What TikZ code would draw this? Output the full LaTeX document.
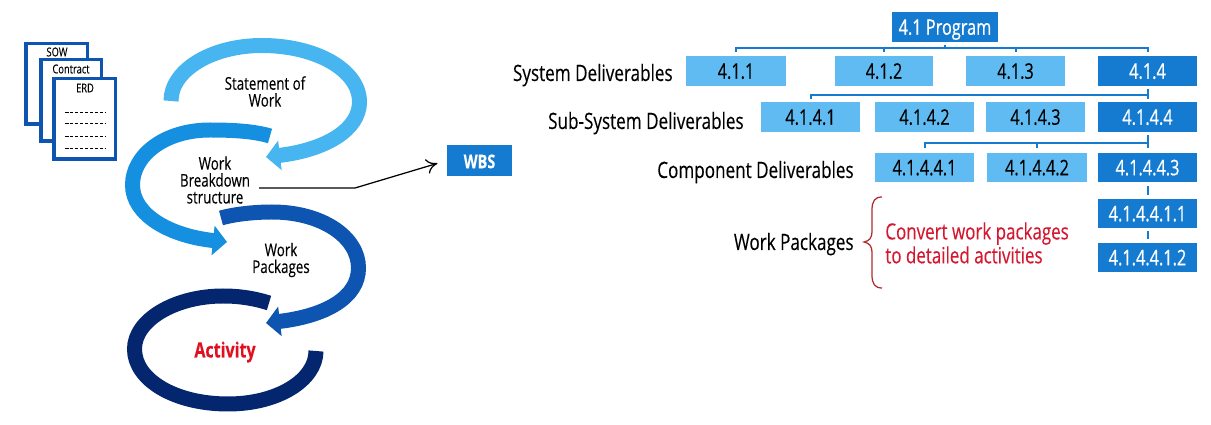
\documentclass[tikz,border=0pt]{standalone}
\usepackage{fontspec}
\setmainfont[FakeStretch=0.76,FakeBold=0.2]{Open Sans}
\newfontfamily\semifont[FakeStretch=0.76,FakeBold=0.6]{Open Sans}
\usetikzlibrary{arrows.meta}
\definecolor{skyfill}{HTML}{5FBBF2}
\definecolor{progfill}{HTML}{147BD1}
\definecolor{loopa}{HTML}{47B5F0}
\definecolor{loopb}{HTML}{1590E0}
\definecolor{loopc}{HTML}{0D55B0}
\definecolor{loopd}{HTML}{03266F}
\definecolor{docblue}{HTML}{0D55B0}
\definecolor{actred}{HTML}{E01020}
\definecolor{notered}{HTML}{D41830}
\definecolor{bracered}{HTML}{B22A2A}
\tikzset{
  wbsbox/.style={minimum width=1.98cm, minimum height=0.6cm, inner sep=0pt, outer sep=0pt, text height=0.31cm, text depth=0pt, font=\fontsize{12.2}{14}\selectfont},
  lightbox/.style={wbsbox, fill=skyfill, text=black},
  darkbox/.style={wbsbox, fill=progfill, text=white, font=\fontsize{12.2}{14}\selectfont\semifont},
  rowlabel/.style={anchor=east, inner sep=0pt, text height=0.32cm, text depth=0pt, font=\fontsize{12.8}{15}\selectfont},
  doclabel/.style={font=\fontsize{7}{9}\selectfont},
  looptext/.style={align=center, font=\fontsize{10}{9.6}\selectfont},
  buslink/.style={draw=progfill, line width=0.04cm},
  doc/.style={draw=docblue, fill=white, line width=0.07cm},
  looparrow/.style={line width=0.3cm, -{Triangle[length=0.28cm,width=0.58cm]}},
  loopplain/.style={line width=0.3cm}
}
\begin{document}
\begin{tikzpicture}[x=0.02cm, y=-0.02cm]
\useasboundingbox (0,0) rectangle (1211,425);

% documents
\draw[doc] (25.75,43.75) rectangle (87.25,124.25);
\node[doclabel] (sow) at (57,52) {SOW};
\draw[doc] (40.75,59.75) rectangle (101.25,141.25);
\node[doclabel] (contract) at (71,69) {Contract};
\draw[doc] (53.75,78.75) rectangle (115.25,159.25);
\node[doclabel] (erd) at (85,88) {ERD};
\foreach \y in {113,124,137,149}
  \draw[dash pattern=on 0.07cm off 0.03cm, line width=0.02cm] (65,\y) -- (106,\y);

% loops
\draw[looparrow, draw=loopa, color=loopa] (171,101) .. controls (171,70) and (212,45.5) .. (262,45.5)
  .. controls (316,45.5) and (359.5,70) .. (359.5,102) .. controls (359.5,130) and (325,150) .. (266,157);
\draw[looparrow, draw=loopb, color=loopb] (270,136) .. controls (255,131.5) and (235,130) .. (210,130)
  .. controls (165,130) and (132.5,155) .. (132.5,185) .. controls (132.5,215) and (170,236) .. (227,242);
\draw[looparrow, draw=loopc, color=loopc] (221,218) .. controls (235,214) and (255,212) .. (272,212)
  .. controls (322,212) and (358.5,237) .. (358.5,268) .. controls (358.5,298) and (325,316) .. (266,323);
\draw[loopplain, draw=loopd] (269,303) .. controls (255,298.5) and (240,296) .. (223,296)
  .. controls (175,296) and (134.5,320) .. (134.5,349) .. controls (134.5,380) and (175,404) .. (228,404)
  .. controls (278,404) and (316,380) .. (316,351);

\node[looptext] (sowtext) at (265,91.5) {Statement of\\Work};
\node[looptext] (wbstext) at (215,180) {Work\\Breakdown\\structure};
\node[looptext] (packtext) at (281,260) {Work\\Packages};
\node[text=actred, text height=0.3cm, text depth=0pt, font=\fontsize{12}{14}\selectfont\bfseries] (activity) at (225,350) {Activity};

% wbs callout
\node[darkbox, minimum width=1.3cm, minimum height=0.62cm, font=\fontsize{10.8}{13}\selectfont\bfseries] (wbs) at (479.5,160.5) {WBS};
\coordinate (calloutstart) at (259,188);
\coordinate (calloutbend) at (355,188);
\draw[line width=0.025cm, shorten >=0.2cm, -{To[length=0.22cm,width=0.3cm]}] (calloutstart) -- (calloutbend) -- (wbs.west);

% tree
\node[darkbox, minimum width=2.12cm] (prog) at (945,27) {4.1 Program};

\node[lightbox, minimum width=2cm] (d1) at (736,71) {4.1.1};
\node[lightbox] (d2) at (884,71) {4.1.2};
\node[lightbox] (d3) at (1015.5,71) {4.1.3};
\node[darkbox] (d4) at (1147.5,71) {4.1.4};

\node[lightbox] (s1) at (810.5,117) {4.1.4.1};
\node[lightbox] (s2) at (924.5,117) {4.1.4.2};
\node[lightbox] (s3) at (1035.5,117) {4.1.4.3};
\node[darkbox] (s4) at (1147.5,117) {4.1.4.4};

\node[lightbox, minimum height=0.58cm] (c1) at (924.5,167.5) {4.1.4.4.1};
\node[lightbox, minimum height=0.58cm, minimum width=2cm] (c2) at (1037,167.5) {4.1.4.4.2};
\node[darkbox, minimum height=0.58cm] (c3) at (1147.5,167.5) {4.1.4.4.3};

\node[darkbox, minimum height=0.58cm] (p1) at (1147.5,213.5) {4.1.4.4.1.1};
\node[darkbox, minimum height=0.58cm] (p2) at (1147.5,257.5) {4.1.4.4.1.2};

\coordinate (busa) at (0,48.5);
\coordinate (busb) at (0,95);
\coordinate (busc) at (0,143);
\foreach \child in {d1,d2,d3,d4}
  \draw[buslink, shorten <=0.06cm, shorten >=0.08cm] (prog.south) -- (prog.south |- busa) -| (\child.north);
\foreach \child in {s1,s4}
  \draw[buslink, shorten <=0.06cm, shorten >=0.06cm] (d4.south) -- (d4.south |- busb) -| (\child.north);
\foreach \child in {c1,c2,c3}
  \draw[buslink, shorten <=0.06cm, shorten >=0.1cm] (s4.south) -- (s4.south |- busc) -| (\child.north);
\draw[buslink, shorten <=0.08cm, shorten >=0.08cm] (c3.south) -- (p1.north);
\draw[buslink, shorten <=0.06cm, shorten >=0.08cm] (p1.south) -- (p2.north);

% row labels
\node[rowlabel] (lsys) at (673,73) {System Deliverables};
\node[rowlabel] (lsub) at (744,121) {Sub-System Deliverables};
\node[rowlabel] (lcomp) at (854,170) {Component Deliverables};
\node[rowlabel] (lpack) at (854,242) {Work Packages};

% brace and note
\draw[bracered, line width=0.025cm] (882,197) .. controls (875,197) and (872,201) .. (872,210) -- (872,232)
  .. controls (872,238) and (869,241) .. (864,242) .. controls (869,243) and (872,246) .. (872,252) -- (872,275)
  .. controls (872,284) and (875,288) .. (882,288);
\node[anchor=west, inner sep=0pt, align=left, text=notered, font=\fontsize{12.7}{13.6}\selectfont] (note) at (885,243) {Convert work packages\\to detailed activities};
\end{tikzpicture}
\end{document}
